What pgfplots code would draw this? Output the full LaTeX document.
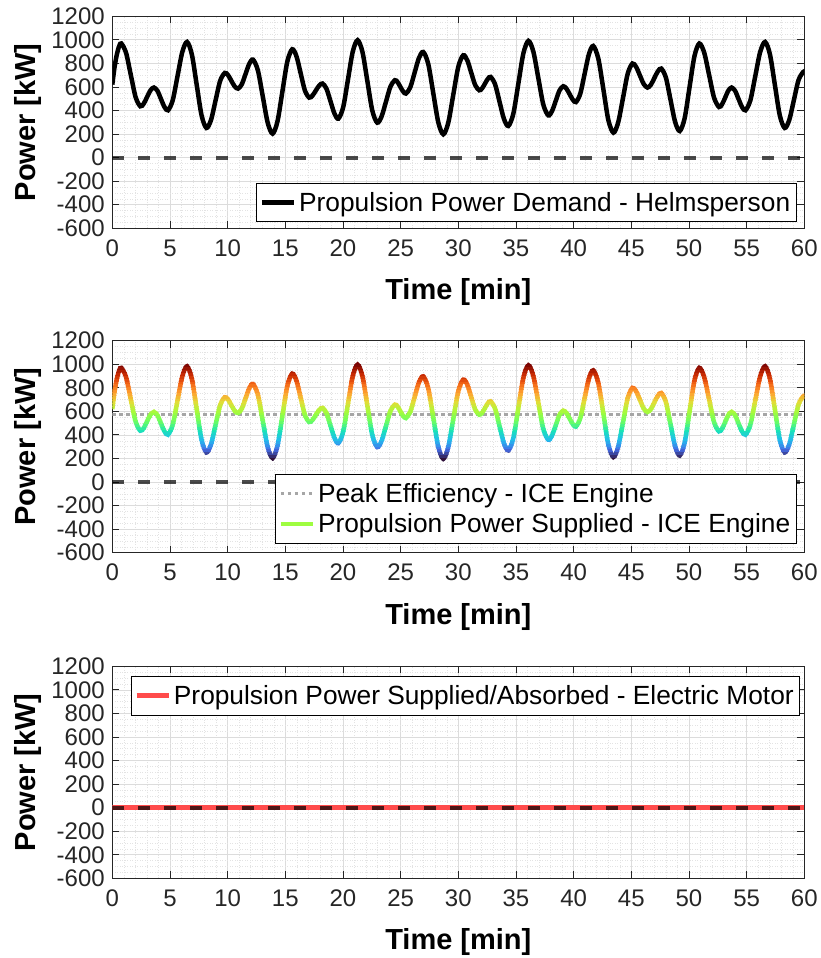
\documentclass[border=0pt]{standalone}
\usepackage{fontspec}
\setmainfont{Liberation Sans}
\usepackage{pgfplots}
\usepackage{pgfplotstable}
\pgfplotsset{compat=1.18}

\definecolor{axgray}{HTML}{262626}
\definecolor{gridmaj}{HTML}{DCDCDC}
\definecolor{gridmin}{HTML}{E3E3E3}
\definecolor{motorred}{RGB}{255,75,75}
\definecolor{icegreen}{RGB}{158,253,64}
\definecolor{peakgray}{HTML}{A6A6A6}

% turbo-like colormap, 0 = 198 kW, 1000 = 997 kW
\pgfplotsset{colormap={turbo}{
  rgb255=(48,18,59) rgb255=(68,108,230) rgb255=(36,186,238) rgb255=(26,228,182)
  rgb255=(110,254,96) rgb255=(164,252,60) rgb255=(225,221,55) rgb255=(254,164,49)
  rgb255=(243,99,21) rgb255=(199,42,3) rgb255=(122,4,3)}}

% power demand [kW] over time [min]
\pgfplotstableread{
t P
0 620
0.2 771
0.4 878
0.6 948
0.78 969
1.19 891
1.605 702
2.02 514
2.43 436
2.73 459
3.02 516
3.315 572
3.61 595
3.915 567
4.22 498
4.525 430
4.83 402
5.24 487
5.655 692
6.07 897
6.48 982
6.9 875
7.32 617
7.74 359
8.16 252
8.56 320
8.955 486
9.35 651
9.75 719
10.04 700
10.325 652
10.61 605
10.9 586
11.225 622
11.55 709
11.875 796
12.2 832
12.625 740
13.05 518
13.475 296
13.9 204
14.325 309
14.75 562
15.175 815
15.6 920
15.97 860
16.335 715
16.7 570
17.07 510
17.36 527
17.65 570
17.94 612
18.23 629
18.57 585
18.915 480
19.26 375
19.6 331
20.02 428
20.435 664
20.85 900
21.27 997
21.695 895
22.12 647
22.545 399
22.97 297
23.35 350
23.735 477
24.12 604
24.5 657
24.74 641
24.98 600
25.22 561
25.46 544
25.835 596
26.21 720
26.585 845
26.96 897
27.395 795
27.83 548
28.265 300
28.7 198
29.13 296
29.565 534
30.0 771
30.43 869
30.78 826
31.125 720
31.47 615
31.82 572
32.065 588
32.31 628
32.555 668
32.8 685
33.185 624
33.57 477
33.955 330
34.34 269
34.775 374
35.21 630
35.645 886
36.08 991
36.51 899
36.94 675
37.37 451
37.8 359
38.125 395
38.45 482
38.775 570
39.1 606
39.375 586
39.65 539
39.925 492
40.2 472
40.575 542
40.95 710
41.325 878
41.7 948
42.14 841
42.58 580
43.01 319
43.45 212
43.86 298
44.28 506
44.69 713
45.1 799
45.425 769
45.75 697
46.075 625
46.4 595
46.7 619
47.0 676
47.3 732
47.6 756
48.0 679
48.4 491
48.8 303
49.2 226
49.625 334
50.05 598
50.475 861
50.9 969
51.325 890
51.75 700
52.175 509
52.6 430
52.875 454
53.15 512
53.425 571
53.7 595
54.0 567
54.3 498
54.6 430
54.9 402
55.325 487
55.75 692
56.175 897
56.6 982
57.025 875
57.45 617
57.875 359
58.3 252
58.7 321
59.1 490
59.5 658
59.9 727
60 728
}\demand

\pgfplotsset{
  panel/.style={
    width=692pt, height=212pt, scale only axis, anchor=south west,
    xmin=0, xmax=60, ymin=-600, ymax=1200,
    xtick={0,5,...,60}, ytick={-600,-400,...,1200},
    minor x tick num=4, minor y tick num=3,
    grid=both,
    major grid style={gridmaj, line width=0.7pt},
    minor grid style={gridmin, line width=0.5pt, dash pattern=on 1pt off 1.5pt},
    tick align=inside, major tick length=7pt, minor tick length=0pt,
    axis line style={axgray, line width=0.9pt},
    every tick/.style={axgray, line width=0.9pt},
    tick label style={font=\fontsize{24}{28}\selectfont, text=axgray},
    /pgf/number format/assume math mode=true,
    /pgf/number format/1000 sep={},
    xticklabel style={yshift=-8pt},
    yticklabel style={xshift=-4pt},
    xlabel={Time [min]}, ylabel={Power [kW]},
    label style={font=\bfseries\fontsize{29}{34}\selectfont},
    xlabel style={at={(axis description cs:0.5,-0.302)}, anchor=center},
    ylabel style={at={(axis description cs:-0.1214,0.5)}, anchor=center},
    legend cell align=left,
    legend image code/.code={\draw[##1] (0pt,0pt) -- (32pt,0pt);},
  },
  zeroline/.style={black, opacity=0.7, line width=4pt, dash pattern=on 12pt off 14pt, forget plot},
  lgd/.style={font=\fontsize{26.3}{30}\selectfont, draw=black, line width=0.9pt, fill=white,
    inner xsep=3pt, inner ysep=4pt, nodes={inner xsep=3pt, inner ysep=5pt}},
}

\begin{document}
\begin{tikzpicture}
\useasboundingbox (0,0) rectangle (820pt,958pt);

% top: demand
\begin{axis}[panel, at={(112.3pt,729.7pt)},
  legend style={lgd, at={(axis description cs:1,0)}, anchor=south east, xshift=-7.6pt, yshift=6pt}]
\addplot[zeroline] coordinates {(0,0) (60,0)};
\addplot[black, line width=4.5pt, smooth] table[x=t,y=P] {\demand};
\addlegendentry{Propulsion Power Demand - Helmsperson}
\end{axis}

% middle: ICE engine, coloured by power
\begin{axis}[panel, at={(112.3pt,405.3pt)},
  legend style={lgd, at={(axis description cs:1,0)}, anchor=south east, xshift=-7.6pt, yshift=9pt}]
\addplot[peakgray, line width=3.5pt, dash pattern=on 3.5pt off 3.5pt, forget plot] coordinates {(0,575) (60,575)};
\addplot[zeroline] coordinates {(0,0) (60,0)};
\begin{scope}
\clip (axis cs:0,-700) rectangle (axis cs:60,187);
\addplot[color of colormap={0 of turbo}, line width=4.5pt, smooth, forget plot] table[x=t,y=P] {\demand};
\end{scope}
\pgfplotsinvokeforeach{0,30,...,990}{
\begin{scope}
\clip (axis cs:0,{198+0.799*(#1-15)}) rectangle (axis cs:60,{198+0.799*(#1+16)});
\addplot[color of colormap={#1 of turbo}, line width=4.5pt, smooth, forget plot] table[x=t,y=P] {\demand};
\end{scope}
}
\begin{scope}
\clip (axis cs:0,1000) rectangle (axis cs:60,1300);
\addplot[color of colormap={1000 of turbo}, line width=4.5pt, smooth, forget plot] table[x=t,y=P] {\demand};
\end{scope}
\addlegendimage{peakgray, line width=3.5pt, dash pattern=on 3.5pt off 3.5pt}
\addlegendentry{Peak Efficiency - ICE Engine}
\addlegendimage{icegreen, line width=4.5pt}
\addlegendentry{Propulsion Power Supplied - ICE Engine}
\end{axis}

% bottom: electric motor
\begin{axis}[panel, at={(112.3pt,79.7pt)},
  legend style={lgd, at={(axis description cs:0,1)}, anchor=north west, xshift=18.7pt, yshift=-9.7pt}]
\addplot[motorred, line width=4.5pt] coordinates {(0,0) (60,0)};
\addlegendentry{Propulsion Power Supplied/Absorbed - Electric Motor}
\addplot[zeroline] coordinates {(0,0) (60,0)};
\end{axis}
\end{tikzpicture}
\end{document}
